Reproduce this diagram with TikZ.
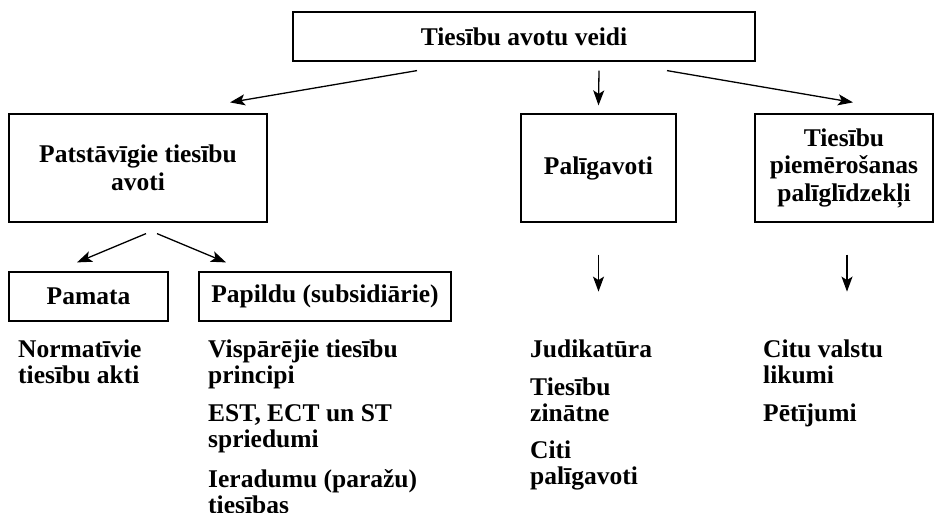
\documentclass[tikz,border=0pt]{standalone}
\usepackage{fontspec}
\setmainfont{Liberation Serif}
\usetikzlibrary{arrows.meta}
\newcommand\twol[2]{\vtop{\hbox{#1}\hbox{#2}}}
\begin{document}
\begin{tikzpicture}[x=1pt,y=-1pt,
  box/.style={draw=black, line width=1.2pt, fill=white, inner sep=0pt, align=center,
    font=\fontsize{25.5}{27.5}\selectfont\bfseries},
  item/.style={anchor=base west, inner sep=0pt, font=\fontsize{25.5}{26}\selectfont\bfseries},
  arr/.style={line width=1.3pt, -{Stealth[length=15pt,width=11pt,inset=3.5pt]}}]
\useasboundingbox[fill=white] (0,0) rectangle (934,512);
% boxes
\node[box, minimum width=462pt, minimum height=49pt] (top) at (524,36.5) {Tiesību avotu veidi};
\node[box, minimum width=258pt, minimum height=108pt] (pat) at (138,168) {Patstāvīgie tiesību\\avoti};
\node[box, minimum width=155pt, minimum height=108pt] (pal) at (598.5,168) {Palīgavoti};
\node[box, minimum width=178pt, minimum height=108pt] (tpl) at (844,168) {Tiesību\\piemērošanas\\palīglīdzekļi};
\node[box, minimum width=159pt, minimum height=49pt] (pam) at (88.5,296.5) {Pamata};
\node[box, minimum width=252pt, minimum height=49pt] (pap) at (325,296.5) {Papildu (subsidiārie)};
% lists
\node[item] (norm) at (18,357) {\twol{Normatīvie}{tiesību akti}};
\node[item] (visp) at (208,357) {\twol{Vispārējie tiesību}{principi}};
\node[item] (est) at (208,421) {\twol{EST, ECT un ST}{spriedumi}};
\node[item] (ier) at (208,487) {\twol{Ieradumu (paražu)}{tiesības}};
\node[item] (jud) at (530,357) {Judikatūra};
\node[item] (tzin) at (530,395) {\twol{Tiesību}{zinātne}};
\node[item] (citi) at (530,458) {\twol{Citi}{palīgavoti}};
\node[item] (citu) at (763,357) {\twol{Citu valstu}{likumi}};
\node[item] (pet) at (763,421) {Pētījumi};
% arrows
\draw[arr] ([shift={(-107,9)}]top.south) -- ([shift={(92,-11)}]pat.north);
\draw[arr] ([shift={(75,9)}]top.south) -- ([shift={(0,-8)}]pal.north);
\draw[arr] ([shift={(143,9)}]top.south) -- ([shift={(9,-11)}]tpl.north);
\draw[arr] ([shift={(8,11)}]pat.south) -- ([shift={(-11.5,-9)}]pam.north);
\draw[arr] ([shift={(19,11)}]pat.south) -- ([shift={(-99,-9)}]pap.north);
\draw[arr] ([shift={(0,32)}]pal.south) -- ([shift={(0,69)}]pal.south);
\draw[arr] ([shift={(3,32)}]tpl.south) -- ([shift={(3,69)}]tpl.south);
\end{tikzpicture}
\end{document}
